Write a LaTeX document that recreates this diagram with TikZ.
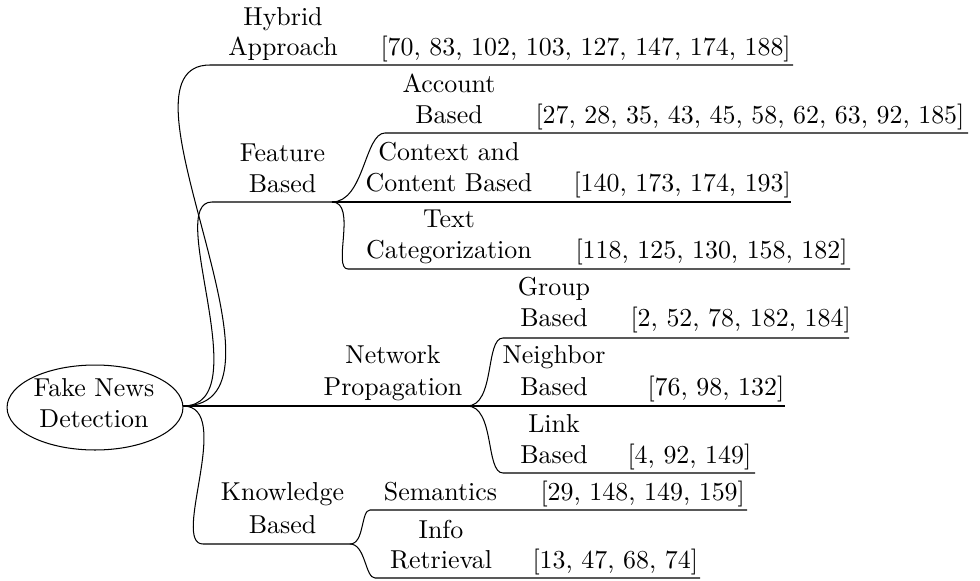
\documentclass[tikz,border=0pt]{standalone}
\usetikzlibrary{shapes.geometric}
\begin{document}
\begin{tikzpicture}[x=0.386pt,y=-0.386pt,
  txt/.style={anchor=base,inner sep=0pt},
  cit/.style={anchor=base west,inner sep=0pt},
  curv/.style={out=0,in=180,out looseness=0.95,in looseness=0.6},
  rootshape/.style={draw,ellipse,minimum width=67.9pt,minimum height=32.8pt,inner sep=0pt},
]
\useasboundingbox (0,0) rectangle (980,581);

% root
\node (root) [rootshape] at (95,407.5) {};
\node (rootA) [txt] at (94,396.7) {Fake News};
\node (rootB) [txt] at (94,427.3) {Detection};
\coordinate (r0) at (183,406);

% line end points
\coordinate (hL) at (210,65);  \coordinate (hR) at (793,65);
\coordinate (fL) at (212,202); \coordinate (fR) at (332,202);
\coordinate (aL) at (385,133); \coordinate (aR) at (968,133);
\coordinate (cR) at (791,202);
\coordinate (tL) at (348,269); \coordinate (tR) at (850,269);
\coordinate (nR) at (467,406);
\coordinate (tk1) at (283,406); \coordinate (tk2) at (295,406);
\coordinate (gL) at (503,338); \coordinate (gR) at (849,338);
\coordinate (neR) at (785,406);
\coordinate (lL) at (503,473); \coordinate (lR) at (755,473);
\coordinate (kL) at (203,544); \coordinate (kR) at (350,544);
\coordinate (sL) at (370,510); \coordinate (sR) at (747,510);
\coordinate (iL) at (375,578); \coordinate (iR) at (700,578);

% texts
\node (hyb1) [txt] at (283,25) {Hybrid};
\node (hyb2) [txt] at (283,55) {Approach};
\node (hybc) [cit] at (380,55) {[70, 83, 102, 103, 127, 147, 174, 188]};

\node (fea1) [txt] at (282.5,161) {Feature};
\node (fea2) [txt] at (282.5,192) {Based};

\node (acc1) [txt] at (449,92) {Account};
\node (acc2) [txt] at (449,123) {Based};
\node (accc) [cit] at (535,123) {[27, 28, 35, 43, 45, 58, 62, 63, 92, 185]};

\node (con1) [txt] at (449,160) {Context and};
\node (con2) [txt] at (449,191) {Content Based};
\node (conc) [cit] at (573,191) {[140, 173, 174, 193]};

\node (cat1) [txt] at (449,227) {Text};
\node (cat2) [txt] at (449,258) {Categorization};
\node (catc) [cit] at (575,258) {[118, 125, 130, 158, 182]};

\node (net1) [txt] at (393,363) {Network};
\node (net2) [txt] at (393,395) {Propagation};

\node (grp1) [txt] at (554,295) {Group};
\node (grp2) [txt] at (554,326.5) {Based};
\node (grpc) [cit] at (630,326.5) {[2, 52, 78, 182, 184]};

\node (nei1) [txt] at (554,363) {Neighbor};
\node (nei2) [txt] at (554,395) {Based};
\node (neic) [cit] at (647,395) {[76, 98, 132]};

\node (lin1) [txt] at (554,432.5) {Link};
\node (lin2) [txt] at (554,463.5) {Based};
\node (linc) [cit] at (627,463.5) {[4, 92, 149]};

\node (kno1) [txt] at (282.5,500) {Knowledge};
\node (kno2) [txt] at (282.5,533) {Based};

\node (sem1) [txt] at (440.5,500) {Semantics};
\node (semc) [cit] at (540,500) {[29, 148, 149, 159]};

\node (inf1) [txt] at (441,538) {Info};
\node (inf2) [txt] at (441,568) {Retrieval};
\node (infc) [cit] at (532,568) {[13, 47, 68, 74]};

% connectors and underlines
\draw (r0) to[curv,in looseness=0.8] (hL) -- (hR);
\draw (r0) to[curv] (fL) -- (fR);
\draw (r0) -- (nR);
\draw (r0) to[curv] (kL) -- (kR);

\draw (fR) to[curv] (aL) -- (aR);
\draw (fR) -- (cR);
\draw (fR) to[curv] (tL) -- (tR);

\draw (nR) to[curv] (gL) -- (gR);
\draw (nR) -- (neR);
\draw (nR) to[curv] (lL) -- (lR);

\draw (kR) to[curv] (sL) -- (sR);
\draw (kR) to[curv] (iL) -- (iR);

\draw[line width=0.8pt] (tk1) -- (tk2);
\end{tikzpicture}
\end{document}
